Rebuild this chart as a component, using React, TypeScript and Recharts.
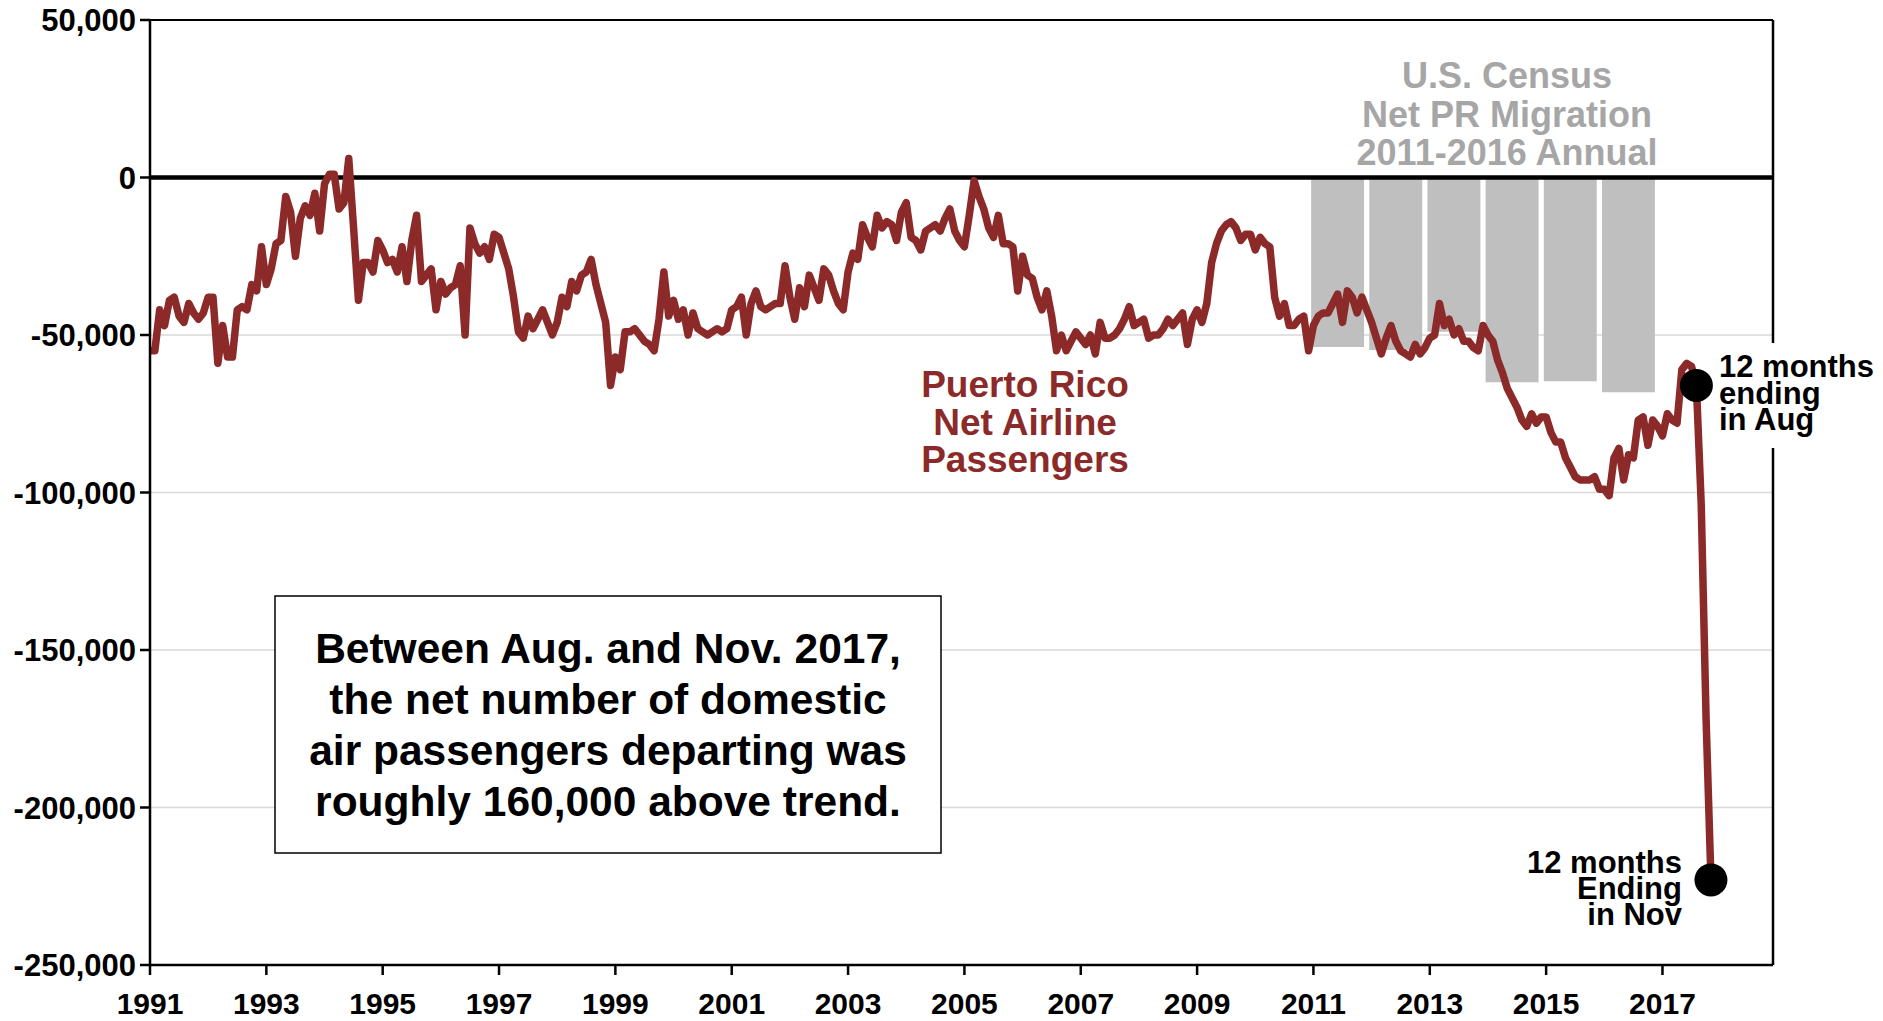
import React from 'react';
import {
  ComposedChart,
  Line,
  XAxis,
  YAxis,
  CartesianGrid,
  ReferenceLine,
  ReferenceDot,
  ReferenceArea,
} from 'recharts';

const START_YEAR = 1991;

// Puerto Rico net airline passengers (thousands), monthly, Jan 1991 – Nov 2017
const netPassengersK: number[] = [
  // 1991
  -55, -55, -42, -47, -39, -38, -44, -46, -40, -43, -45, -43,
  // 1992
  -38, -38, -59, -47, -57, -57, -42, -41, -42, -34, -36, -22,
  // 1993
  -34, -29, -21, -20, -6, -11, -25, -13, -9, -12, -5, -17,
  // 1994
  -2, 1, 1, -10, -8, 6, -16, -39, -27, -27, -30, -20,
  // 1995
  -23, -27, -26, -30, -22, -33, -20, -12, -33, -31, -29, -42,
  // 1996
  -33, -37, -35, -34, -28, -50, -16, -21, -24, -22, -26, -18,
  // 1997
  -19, -24, -29, -38, -49, -51, -44, -48, -45, -42, -46, -50,
  // 1998
  -46, -38, -41, -33, -36, -31, -30, -26, -34, -40, -46, -66,
  // 1999
  -57, -61, -49, -49, -48, -50, -52, -53, -55, -45, -30, -44,
  // 2000
  -39, -45, -42, -50, -43, -48, -49, -50, -49, -48, -49, -48,
  // 2001
  -42, -41, -38, -50, -40, -36, -41, -42, -41, -40, -40, -28,
  // 2002
  -38, -45, -35, -41, -31, -35, -39, -29, -31, -36, -40, -42,
  // 2003
  -30, -24, -26, -15, -19, -22, -12, -16, -14, -15, -20, -11,
  // 2004
  -8, -19, -20, -23, -17, -16, -15, -17, -13, -10, -17, -20,
  // 2005
  -22, -12, -1, -6, -10, -16, -19, -12, -21, -21, -22, -36,
  // 2006
  -25, -31, -32, -38, -42, -36, -44, -55, -50, -55, -52, -49,
  // 2007
  -51, -53, -50, -56, -46, -51, -51, -50, -48, -45, -41, -47,
  // 2008
  -46, -45, -51, -50, -50, -48, -45, -47, -45, -43, -53, -45,
  // 2009
  -42, -46, -40, -27, -21, -17, -15, -14, -16, -20, -18, -18,
  // 2010
  -23, -19, -21, -22, -38, -44, -40, -47, -47, -45, -44, -55,
  // 2011
  -47, -44, -43, -43, -40, -37, -46, -36, -38, -43, -38, -42,
  // 2012
  -46, -51, -56, -51, -47, -52, -55, -56, -57, -53, -56, -54,
  // 2013
  -51, -50, -40, -47, -45, -50, -48, -52, -52, -54, -55, -47,
  // 2014
  -50, -52, -58, -62, -67, -70, -73, -77, -79, -75, -78, -76,
  // 2015
  -76, -81, -84, -84, -89, -92, -95, -96, -96, -96, -95, -99,
  // 2016
  -99, -101, -89, -86, -96, -88, -89, -77, -76, -85, -77, -79,
  // 2017 (Jan – Nov)
  -82, -75, -77, -78, -61, -59, -60, -66, -104, -172, -223,
];

// U.S. Census annual net PR migration
const censusYears: number[] = [2011, 2012, 2013, 2014, 2015, 2016];
const censusNetMigration: number[] = [-53800, -54800, -49000, -65000, -64700, -68200];

const xTicks: number[] = [1991, 1993, 1995, 1997, 1999, 2001, 2003, 2005, 2007, 2009, 2011, 2013, 2015, 2017];
const yTicks: number[] = [50000, 0, -50000, -100000, -150000, -200000, -250000];

const augIndex = 319; // Aug 2017
const novIndex = 322; // Nov 2017

const X_MIN = 1991;
const X_MAX = 2018.9;
const Y_MIN = -250000;
const Y_MAX = 50000;

// bar extent within each census year (fraction of a year)
const BAR_START = -0.04;
const BAR_END = 0.87;

const chartData = netPassengersK.map((v, i) => ({
  x: START_YEAR + i / 12,
  net: v * 1000,
}));

const FONT = '"Liberation Sans", Arial, Helvetica, sans-serif';
const LINE_COLOR = '#8c2a2a';

export default function App() {
  const fmt = (v: number) => v.toLocaleString('en-US');
  return (
    <div style={{ position: 'absolute', left: 0, top: 0, width: 1883, height: 1021, background: '#fff', fontFamily: FONT }}>
      <ComposedChart
        width={1883}
        height={1021}
        data={chartData}
        margin={{ top: 20, right: 110, bottom: 0, left: 0 }}
      >
        <CartesianGrid horizontal vertical={false} stroke="#d9d9d9" strokeWidth={1.5} />
        <XAxis
          type="number"
          dataKey="x"
          domain={[X_MIN, X_MAX]}
          ticks={xTicks}
          interval={0}
          allowDataOverflow
          height={56}
          tickSize={10}
          tickMargin={18}
          tickFormatter={(v: number) => String(v)}
          tick={{ fontSize: 30, fontWeight: 700, fill: '#000', fontFamily: FONT }}
          axisLine={{ stroke: '#000', strokeWidth: 2.5 }}
          tickLine={{ stroke: '#000', strokeWidth: 2.5 }}
        />
        <YAxis
          type="number"
          domain={[Y_MIN, Y_MAX]}
          ticks={yTicks}
          interval={0}
          allowDataOverflow
          width={150}
          tickSize={10}
          tickMargin={4}
          tickFormatter={fmt}
          tick={{ fontSize: 31, fontWeight: 700, fill: '#000', fontFamily: FONT }}
          axisLine={{ stroke: '#000', strokeWidth: 2.5 }}
          tickLine={{ stroke: '#000', strokeWidth: 2.5 }}
        />
        {censusYears.map((yr, i) => (
          <ReferenceArea
            key={yr}
            x1={yr + BAR_START}
            x2={yr + BAR_END}
            y1={0}
            y2={censusNetMigration[i]}
            fill="#bfbfbf"
            fillOpacity={1}
            stroke="none"
          />
        ))}
        <ReferenceLine y={Y_MAX} stroke="#000" strokeWidth={2} />
        <ReferenceLine x={X_MAX} stroke="#000" strokeWidth={2.5} />
        <ReferenceLine y={0} stroke="#000" strokeWidth={4.5} />
        <Line
          type="linear"
          dataKey="net"
          stroke={LINE_COLOR}
          strokeWidth={7.5}
          strokeLinejoin="round"
          strokeLinecap="round"
          dot={false}
          activeDot={false}
          isAnimationActive={false}
        />
        <ReferenceDot
          x={chartData[augIndex].x}
          y={chartData[augIndex].net}
          r={16.5}
          fill="#000"
          stroke="none"
        />
        <ReferenceDot
          x={chartData[novIndex].x}
          y={chartData[novIndex].net}
          r={16.5}
          fill="#000"
          stroke="none"
        />
      </ComposedChart>

      <svg
        width={1883}
        height={1021}
        style={{ position: 'absolute', left: 0, top: 0, pointerEvents: 'none' }}
      >
        <g fontFamily={FONT} fontWeight={700}>
          {/* Census title */}
          <g fill="#a6a6a6" fontSize={36} textAnchor="middle">
            <text x={1507} y={88}>U.S. Census</text>
            <text x={1507} y={127}>Net PR Migration</text>
            <text x={1507} y={165}>2011-2016 Annual</text>
          </g>
          {/* Series label */}
          <g fill={LINE_COLOR} fontSize={37} textAnchor="middle">
            <text x={1025} y={397}>Puerto Rico</text>
            <text x={1025} y={435}>Net Airline</text>
            <text x={1025} y={472}>Passengers</text>
          </g>
          {/* Aug annotation */}
          <rect x={1715} y={343} width={168} height={105} fill="#fff" />
          <g fill="#000" fontSize={31} textAnchor="start">
            <text x={1719} y={377}>12 months</text>
            <text x={1719} y={404}>ending</text>
            <text x={1719} y={430}>in Aug</text>
          </g>
          {/* Nov annotation */}
          <g fill="#000" fontSize={31} textAnchor="end">
            <text x={1682} y={873}>12 months</text>
            <text x={1682} y={899}>Ending</text>
            <text x={1682} y={925}>in Nov</text>
          </g>
          {/* Text box */}
          <rect x={275} y={596} width={666} height={257} fill="#fff" stroke="#000" strokeWidth={1.5} />
          <g fill="#000" fontSize={42.5} textAnchor="middle">
            <text x={608} y={663}>Between Aug. and Nov. 2017,</text>
            <text x={608} y={714}>the net number of domestic</text>
            <text x={608} y={765}>air passengers departing was</text>
            <text x={608} y={816}>roughly 160,000 above trend.</text>
          </g>
        </g>
      </svg>
    </div>
  );
}
